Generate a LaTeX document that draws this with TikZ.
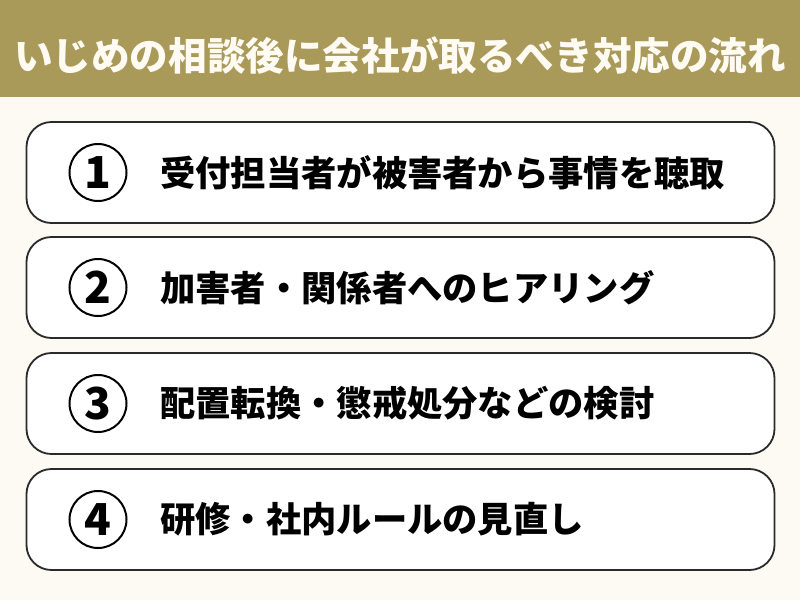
\documentclass[tikz,border=0pt]{standalone}
\usepackage{fontspec}
\setmainfont{Noto Sans CJK JP}
\newfontfamily\jp{Noto Sans CJK JP}
\definecolor{band}{HTML}{A99A5A}
\definecolor{bg}{HTML}{FDF9F3}
\definecolor{titlefg}{HTML}{FFFBF2}
\definecolor{edge}{HTML}{2A2A2A}
\begin{document}
\begin{tikzpicture}[x=1pt,y=-1pt,
  stepbox/.style={draw=edge,line width=1.8pt,fill=white,rounded corners=25pt,
    minimum width=748pt,minimum height=101pt,inner sep=0pt},
  numcirc/.style={circle,draw=black,line width=2pt,minimum size=57pt,inner sep=0pt,
    font=\jp\bfseries\fontsize{44}{44}\selectfont},
  steptext/.style={anchor=west,inner sep=0pt,font=\jp\bfseries\fontsize{35.3}{35.3}\selectfont},
  titletext/.style={text=titlefg,inner sep=0pt,font=\jp\bfseries\fontsize{38.6}{38.6}\selectfont}]
\useasboundingbox (0,0) rectangle (800,600);
\fill[bg] (0,0) rectangle (800,600);
\fill[band] (0,0) rectangle (800,97);
\node[titletext] (title) at (400,56) {いじめの相談後に会社が取るべき対応の流れ};
\foreach \i/\y/\t in {1/172.5/受付担当者が被害者から事情を聴取,
                       2/287.5/加害者・関係者へのヒアリング,
                       3/403.5/配置転換・懲戒処分などの検討,
                       4/519.5/研修・社内ルールの見直し}{
  \node[stepbox] (box\i) at (400.5,\y) {};
  \node[numcirc] (num\i) at (98,\y) {\i};
  \node[steptext] (txt\i) at (160,\y) {\t};
}
\end{tikzpicture}
\end{document}
